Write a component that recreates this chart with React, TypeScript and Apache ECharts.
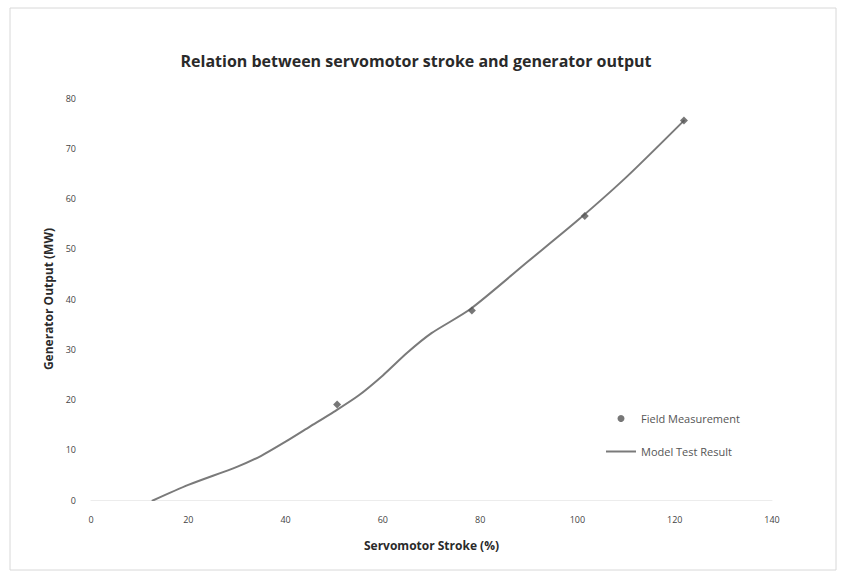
import React, { useEffect, useRef } from "react";
import * as echarts from "echarts";

const titleText = "Relation between servomotor stroke and generator output";
const xAxisName = "Servomotor Stroke (%)";
const yAxisName = "Generator Output (MW)";

const fieldStroke = [50.6, 78.3, 101.5, 121.9];
const fieldOutput = [19.0, 37.7, 56.5, 75.5];

const modelStroke = [12.5, 20, 30, 35, 40, 45, 50, 55, 60, 65, 70, 78, 90, 100, 110, 122];
const modelOutput = [-0.2, 3.0, 6.6, 8.8, 11.6, 14.6, 17.6, 20.8, 24.8, 29.3, 33.2, 38.0, 47.6, 55.6, 64.2, 75.6];

export default function App() {
  const ref = useRef<HTMLDivElement>(null);
  useEffect(() => {
    if (!ref.current) return;
    const chart = echarts.init(ref.current, undefined, { renderer: "svg" });
    const font = "'Open Sans', 'Noto Sans', sans-serif";
    chart.setOption({
      animation: false,
      backgroundColor: "#ffffff",
      textStyle: { fontFamily: font },
      title: {
        text: titleText,
        left: 411,
        textAlign: "center",
        top: 48,
        textStyle: { fontSize: 16, fontWeight: "bold", color: "#2a2a2a", fontFamily: font },
      },
      graphic: [
        {
          type: "rect",
          shape: { x: 10, y: 8, width: 826, height: 562 },
          style: { fill: "none", stroke: "#d8d8d8", lineWidth: 1 },
          silent: true,
        },
      ],
      grid: { left: 91, right: 72, top: 98, bottom: 79 },
      legend: {
        orient: "vertical",
        left: 600,
        top: 408,
        itemWidth: 30,
        itemHeight: 7,
        itemGap: 22,
        textStyle: { fontSize: 11, color: "#555", fontFamily: font },
        data: [
          { name: "Field Measurement", icon: "circle", itemStyle: { color: "#555" } },
          { name: "Model Test Result", itemStyle: { opacity: 0 } },
        ],
      },
      xAxis: {
        type: "value",
        min: 0,
        max: 140,
        interval: 20,
        name: xAxisName,
        nameLocation: "middle",
        nameGap: 39,
        nameTextStyle: { fontSize: 12, fontWeight: "bold", color: "#2a2a2a" },
        axisLine: { show: true, lineStyle: { color: "#ececec" } },
        axisTick: { show: false },
        splitLine: { show: false },
        axisLabel: { fontSize: 9, color: "#444", margin: 15 },
      },
      yAxis: {
        type: "value",
        min: 0,
        max: 80,
        interval: 10,
        name: yAxisName,
        nameLocation: "middle",
        nameGap: 34,
        nameTextStyle: { fontSize: 12, fontWeight: "bold", color: "#2a2a2a" },
        axisLine: { show: false },
        axisTick: { show: false },
        splitLine: { show: false },
        axisLabel: { fontSize: 9, color: "#444", margin: 15 },
      },
      series: [
        {
          name: "Field Measurement",
          type: "scatter",
          symbol: "diamond",
          symbolSize: 8,
          itemStyle: { color: "#555" },
          data: fieldStroke.map((x, i) => [x, fieldOutput[i]]),
          z: 3,
        },
        {
          name: "Model Test Result",
          type: "line",
          smooth: 0.25,
          showSymbol: false,
          symbol: "none",
          lineStyle: { color: "#7a7a7a", width: 2 },
          itemStyle: { color: "#7a7a7a" },
          data: modelStroke.map((x, i) => [x, modelOutput[i]]),
          z: 2,
        },
      ],
    });
    return () => chart.dispose();
  }, []);
  return (
    <div
      ref={ref}
      style={{ position: "absolute", left: 0, top: 0, width: 844, height: 579 }}
    />
  );
}
